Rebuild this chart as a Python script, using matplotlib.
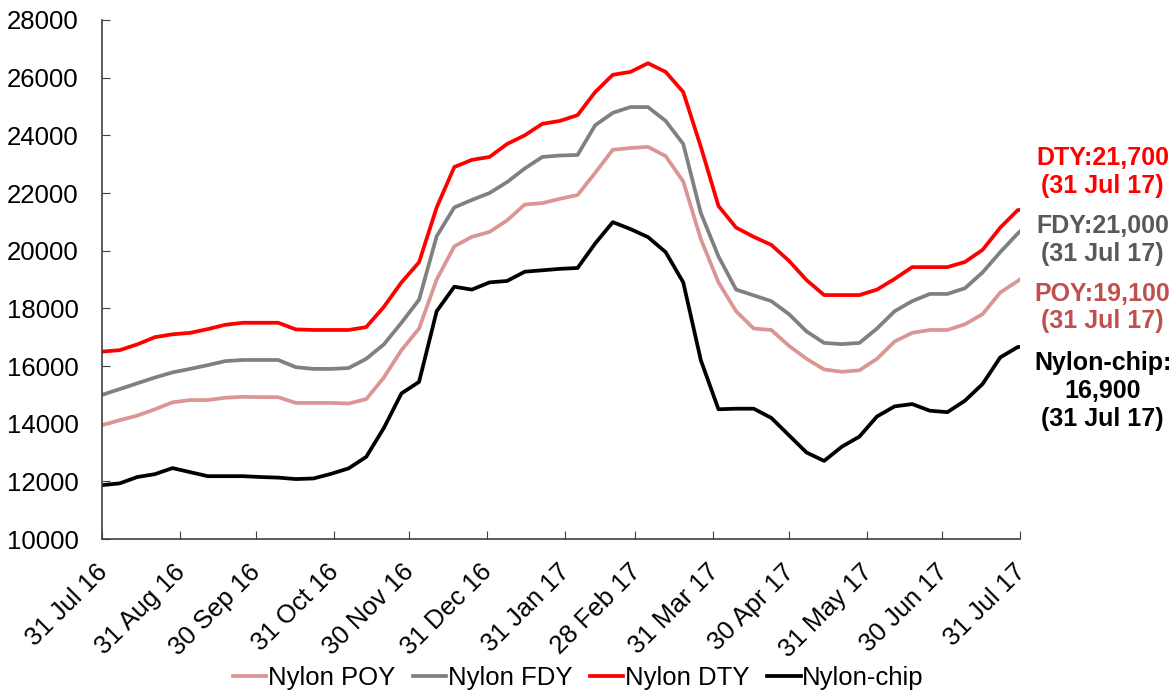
import matplotlib
matplotlib.use("Agg")
import matplotlib.pyplot as plt
import matplotlib.dates as mdates
import matplotlib.transforms as mtransforms
import pandas as pd

plt.rcParams['font.family'] = ['Liberation Sans', 'DejaVu Sans']

# weekly readings from 31 Jul 16, last point 31 Jul 17
dates = list(pd.date_range('2016-07-31', '2017-07-30', freq='7D')) + [pd.Timestamp('2017-07-31')]

dty = [16500, 16550, 16750, 17000, 17100, 17150, 17280, 17430, 17500, 17500,
       17500, 17270, 17250, 17250, 17250, 17350, 18050, 18900, 19600, 21500,
       22900, 23150, 23250, 23700, 24000, 24400, 24500, 24700, 25500, 26100,
       26200, 26500, 26200, 25500, 23600, 21550, 20800, 20480, 20200, 19650,
       18980, 18460, 18460, 18460, 18650, 19020, 19430, 19430, 19430, 19610,
       20030, 20800, 21410, 21410]
fdy = [15000, 15200, 15400, 15600, 15780, 15900, 16030, 16170, 16210, 16210,
       16210, 15960, 15900, 15900, 15930, 16250, 16750, 17500, 18300, 20500,
       21500, 21760, 22000, 22380, 22850, 23250, 23300, 23320, 24350, 24780,
       24980, 24980, 24500, 23700, 21300, 19800, 18650, 18450, 18250, 17800,
       17200, 16800, 16760, 16800, 17300, 17900, 18250, 18500, 18500, 18700,
       19250, 19950, 20600, 20680]
poy = [13950, 14120, 14280, 14500, 14740, 14820, 14820, 14900, 14930, 14920,
       14920, 14720, 14720, 14720, 14700, 14850, 15600, 16550, 17300, 19000,
       20150, 20480, 20650, 21050, 21600, 21650, 21800, 21930, 22700, 23500,
       23560, 23600, 23280, 22400, 20400, 18900, 17900, 17300, 17250, 16700,
       16250, 15880, 15800, 15850, 16250, 16850, 17150, 17250, 17250, 17450,
       17800, 18550, 18950, 19020]
chip = [11870, 11930, 12150, 12250, 12460, 12320, 12180, 12180, 12180, 12150,
        12130, 12080, 12100, 12260, 12450, 12850, 13850, 15050, 15450, 17900,
        18750, 18650, 18900, 18950, 19270, 19320, 19370, 19400, 20250, 20990,
        20750, 20470, 19950, 18900, 16200, 14500, 14520, 14520, 14200, 13600,
        13000, 12710, 13200, 13550, 14250, 14600, 14680, 14450, 14400, 14800,
        15380, 16300, 16660, 16660]

tick_dates = ['2016-07-31', '2016-08-31', '2016-09-30', '2016-10-31', '2016-11-30',
              '2016-12-31', '2017-01-31', '2017-02-28', '2017-03-31', '2017-04-30',
              '2017-05-31', '2017-06-30', '2017-07-31']

labels = ["DTY:21,700\n(31 Jul 17)", "FDY:21,000\n(31 Jul 17)",
          "POY:19,100\n(31 Jul 17)", "Nylon-chip:\n16,900\n(31 Jul 17)"]

fig = plt.figure(figsize=(11.73, 6.94), dpi=100)
ax = fig.add_axes([0.087, 0.2233, 0.7829, 0.7479])

ax.plot(dates, poy, color='#D99694', lw=2.7, label='Nylon POY')
ax.plot(dates, fdy, color='#808080', lw=2.7, label='Nylon FDY')
ax.plot(dates, dty, color='#FF0000', lw=2.7, label='Nylon DTY')
ax.plot(dates, chip, color='#000000', lw=2.7, label='Nylon-chip')

ax.set_ylim(10000, 28000)
ax.set_yticks(range(10000, 28001, 2000))
ax.set_xlim(pd.Timestamp(tick_dates[0]), pd.Timestamp(tick_dates[-1]))
ax.set_xticks([pd.Timestamp(d) for d in tick_dates])
ax.xaxis.set_major_formatter(mdates.DateFormatter('%d %b %y'))

for s in ['top', 'right']:
    ax.spines[s].set_visible(False)
for s in ['left', 'bottom']:
    ax.spines[s].set_color('#404040')
    ax.spines[s].set_linewidth(1.2)

ax.tick_params(axis='both', direction='in', length=6, color='#404040', labelsize=18.5)
ax.tick_params(axis='y', pad=17)
ax.tick_params(axis='x', pad=15)
shift = mtransforms.ScaledTranslation(0.10, 0, fig.dpi_scale_trans)
for lbl in ax.get_xticklabels():
    lbl.set_rotation(45)
    lbl.set_ha('right')
    lbl.set_va('top')
    lbl.set_transform(lbl.get_transform() + shift)

ax.legend(loc='center', bbox_to_anchor=(0.493, 0.023), bbox_transform=fig.transFigure,
          ncol=4, frameon=False, fontsize=18.5, handlelength=1.3, handletextpad=0.05,
          columnspacing=0.7)

fig.text(0.940, 0.752, labels[0], color='#FF0000', fontsize=18, fontweight='bold',
         ha='center', va='center', linespacing=1.2)
fig.text(0.940, 0.654, labels[1], color='#595959', fontsize=18, fontweight='bold',
         ha='center', va='center', linespacing=1.2)
fig.text(0.940, 0.557, labels[2], color='#C0504D', fontsize=18, fontweight='bold',
         ha='center', va='center', linespacing=1.2)
fig.text(0.940, 0.437, labels[3], color='#000000', fontsize=18, fontweight='bold',
         ha='center', va='center', linespacing=1.2)

fig.savefig('out.png', dpi=100)
